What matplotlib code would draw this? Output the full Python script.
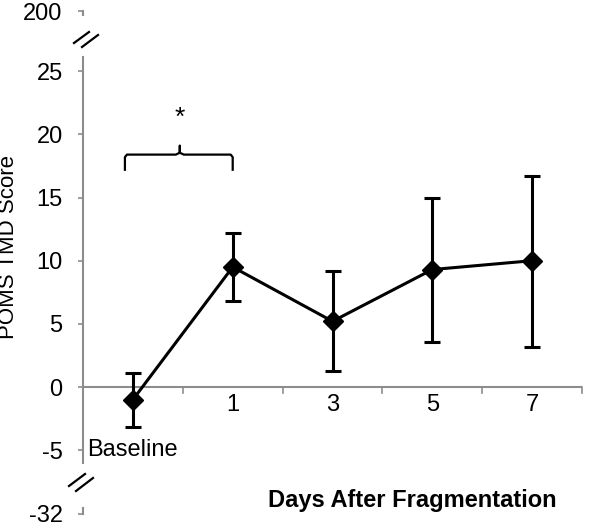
import matplotlib
matplotlib.use("Agg")
import matplotlib.pyplot as plt
from matplotlib.lines import Line2D

plt.rcParams['font.family'] = ['Liberation Sans', 'DejaVu Sans']
plt.rcParams['font.size'] = 17

# data
days = ["Baseline", "1", "3", "5", "7"]
tmd = [-1.0, 9.5, 5.2, 9.3, 10.0]
err_low = [-3.2, 6.8, 1.3, 3.6, 3.2]
err_high = [1.1, 12.2, 9.2, 15.0, 16.7]
y_ticks = [-5, 0, 5, 10, 15, 20, 25]

W, H = 600, 527
# pixel layout of the reference
ppu = 12.63          # pixels per score unit
y0_px = 387          # pixel row of score 0
ax_top_px, ax_bot_px = 8, 516
ax_left_px, ax_right_px = 83, 582

ytop = (y0_px - ax_top_px) / ppu
ybot = (y0_px - ax_bot_px) / ppu
y200 = (y0_px - 11) / ppu     # fake position for the "200" label
ym32 = (y0_px - 514) / ppu    # fake position for the "-32" label

fig = plt.figure(figsize=(W / 100, H / 100), dpi=100)
ax = fig.add_axes([ax_left_px / W, 1 - ax_bot_px / H,
                   (ax_right_px - ax_left_px) / W, (ax_bot_px - ax_top_px) / H])

x = list(range(len(days)))
ax.set_xlim(-0.5, len(days) - 0.5)
ax.set_ylim(ybot, ytop)

lower = [v - lo for v, lo in zip(tmd, err_low)]
upper = [hi - v for v, hi in zip(tmd, err_high)]
ax.errorbar(x, tmd, yerr=[lower, upper], color='black', lw=2.2, elinewidth=2.2,
            capsize=6, capthick=2.2, marker='D', markersize=10, zorder=3)

grey = '#8c8c8c'
for s in ['top', 'right', 'left', 'bottom']:
    ax.spines[s].set_visible(False)

# y axis pieces (broken)
ax.plot([-0.5, -0.5], [(y0_px - 463) / ppu, (y0_px - 57) / ppu], color=grey, lw=1.5, clip_on=False)
ax.plot([-0.5, -0.5], [y200, (y0_px - 15) / ppu], color=grey, lw=1.5, clip_on=False)
ax.plot([-0.5, -0.5], [ym32, (y0_px - 508) / ppu], color=grey, lw=1.5, clip_on=False)
ax.set_yticks([ym32] + y_ticks + [y200])
ax.set_yticklabels(['-32'] + [str(t) for t in y_ticks] + ['200'])
ax.tick_params(axis='y', length=3.6, color=grey, width=1.2, pad=11)

# x axis at zero with ticks between categories
ax.axhline(0, color=grey, lw=1.5, zorder=1)
for b in range(1, len(days) + 1):
    ax.plot([b - 0.5, b - 0.5], [0, -6 / ppu], color=grey, lw=1.2, clip_on=False)
ax.set_xticks([])
for i, lab in enumerate(days):
    yl = -5.0 if lab == "Baseline" else -1.4
    ax.text(i, yl, lab, ha='center', va='center')

# break marks
def px(xp, yp):
    return xp / W, 1 - yp / H

for seg in [((74, 43), (89, 32)), ((82, 47), (98, 35)),
            ((69, 486), (85, 474)), ((76, 491), (93, 478))]:
    (xa, ya), (xb, yb) = px(*seg[0]), px(*seg[1])
    fig.add_artist(Line2D([xa, xb], [ya, yb], color='black', lw=1.6))

# significance bracket
bx0, bx1, bmid = -0.08, 1.0, 0.47
yb_low, yb_high, yb_tip = 17.2, 18.4, 19.1
ax.plot([bx0, bx0, bx0 + 0.02, bmid - 0.04, bmid, bmid, bmid, bmid + 0.04, bx1 - 0.02, bx1, bx1],
        [yb_low, yb_high - 0.2, yb_high, yb_high, yb_high + 0.15, yb_tip, yb_high + 0.15, yb_high,
         yb_high, yb_high - 0.2, yb_low],
        color='black', lw=1.6)
ax.text(bmid, 21.3, '*', ha='center', va='center', fontsize=19)

fig.text(9 / W, 1 - 247 / H, 'POMS TMD Score', rotation=90, ha='center', va='center', fontsize=16)
fig.text(412 / W, 1 - 500 / H, 'Days After Fragmentation', ha='center', va='center',
         fontsize=17, fontweight='bold')

fig.savefig('out.png', dpi=100)
